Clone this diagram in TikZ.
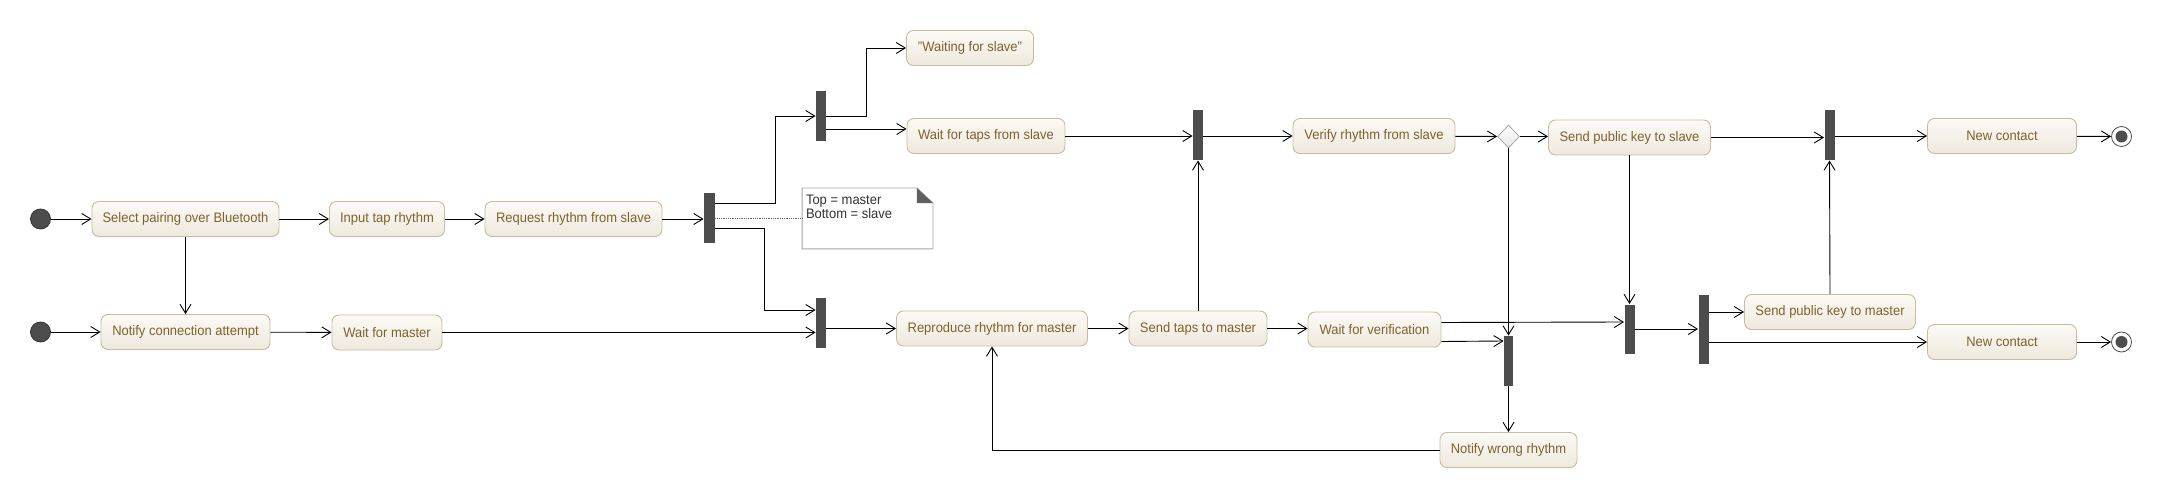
\documentclass[tikz,border=0pt]{standalone}
\usepackage{fontspec}
\setmainfont{Liberation Sans}[FakeStretch=0.94]
\usetikzlibrary{arrows.meta,shapes.geometric}
\definecolor{acttext}{RGB}{125,98,45}
\definecolor{acttop}{RGB}{252,250,246}
\definecolor{actbot}{RGB}{238,233,221}
\definecolor{actline}{RGB}{201,188,158}
\definecolor{barcol}{RGB}{77,77,77}
\definecolor{noteline}{RGB}{165,165,165}
\begin{document}
\begin{tikzpicture}[x=1pt, y=-1pt, line width=0.9pt,
	flow/.style={-{Straight Barb[length=9pt,width=11pt,line width=0.9pt]}},
	act/.style={rectangle, rounded corners=7pt, draw=actline, line width=0.9pt, top color=acttop, bottom color=actbot, text=acttext, minimum height=35pt, inner sep=0pt, font=\fontsize{13.8}{16}\selectfont},
	bar/.style={rectangle, fill=barcol, minimum width=10pt, minimum height=50pt, inner sep=0pt},
	start/.style={circle, fill=barcol, draw=black!80, line width=0.8pt, minimum size=20pt, inner sep=0pt},
	stop/.style={circle, fill=white, draw=black!70, line width=0.8pt, minimum size=20pt, inner sep=0pt, path picture={\fill[barcol] (path picture bounding box.center) circle (6pt);}},
	dec/.style={diamond, draw=black!35, line width=0.8pt, top color=white, bottom color=black!10, minimum width=22pt, minimum height=23pt, inner sep=0pt},
	note/.style={rectangle, minimum width=130pt, minimum height=60pt, inner sep=0pt},
	notetxt/.style={inner sep=0pt, align=left, text=black!80, font=\fontsize{13.8}{12.5}\selectfont}]
	\useasboundingbox (0,0) rectangle (2161,497);

	\node[start] (st1) at (40.5, 219) {};
	\node[act, minimum width=187pt] (sel) at (185.5, 219) {Select pairing over Bluetooth};
	\node[act, minimum width=115pt] (inp) at (387, 219) {Input tap rhythm};
	\node[act, minimum width=177pt] (req) at (573.5, 219) {Request rhythm from slave};
	\node[bar, minimum width=11pt] (f1) at (709.5, 218.5) {};
	\node[start] (st2) at (40.5, 332) {};
	\node[act, minimum width=169pt] (notc) at (185.5, 332) {Notify connection attempt};
	\node[act, minimum width=110pt] (wmas) at (387, 332.5) {Wait for master};

	\node[note] (note) at (867.5, 218.5) {};
	\draw[line width=0.9pt, draw=noteline, fill=white] (note.north west) -- ([xshift=-16pt]note.north east) -- ([yshift=-15pt]note.north east) -- (note.south east) -- (note.south west) -- cycle;
	\fill[barcol!90] ([xshift=-16pt]note.north east) -- ([xshift=-16pt, yshift=-15pt]note.north east) -- ([yshift=-15pt]note.north east) -- cycle;
	\node[notetxt, anchor=north west] (notet) at ([xshift=3.5pt, yshift=-7pt]note.north west) {Top = master\\Bottom = slave};

	\node[bar] (f2) at (821, 116) {};
	\node[act, minimum width=127pt] (wsl) at (970, 48) {"Waiting for slave"};
	\node[act, minimum width=158pt] (wtap) at (986, 136) {Wait for taps from slave};
	\node[bar] (f3) at (1198, 135) {};
	\node[act, minimum width=162pt] (ver) at (1374, 136) {Verify rhythm from slave};
	\node[dec] (d1) at (1508.5, 136.5) {};
	\node[act, minimum width=162pt] (ksl) at (1629.5, 137.5) {Send public key to slave};
	\node[bar] (f4) at (1829.5, 135) {};
	\node[act, minimum width=149pt] (nc1) at (2002, 136) {New contact};
	\node[stop] (e1) at (2121.5, 136.5) {};

	\node[bar] (f8) at (821, 323) {};
	\node[act, minimum width=191pt] (rep) at (992, 328.5) {Reproduce rhythm for master};
	\node[act, minimum width=138pt] (stap) at (1198, 328.5) {Send taps to master};
	\node[act, minimum width=133pt] (wver) at (1374.5, 329.5) {Wait for verification};
	\node[bar, minimum width=9pt] (f5) at (1508.5, 361) {};
	\node[bar, minimum height=49pt] (f6) at (1629.5, 329) {};
	\node[bar, minimum height=69pt] (f7) at (1703.5, 329) {};
	\node[act, minimum width=171pt] (kma) at (1830, 312) {Send public key to master};
	\node[act, minimum width=149pt] (nc2) at (2002, 342) {New contact};
	\node[stop] (e2) at (2121.5, 342) {};
	\node[act, minimum width=137pt] (nwr) at (1508.5, 450) {Notify wrong rhythm};

	\draw[densely dotted, line width=0.8pt, black!60] (f1.east) -- (note.west);

	\draw[flow] (st1) edge (sel);
	\draw[flow] (sel) edge (inp);
	\draw[flow] (inp) edge (req);
	\draw[flow] (req.east) -- (req.east -| f1.west);
	\draw[flow] (sel) edge (notc);
	\draw[flow] (st2) edge (notc);
	\draw[flow] (notc) edge (wmas);
	\draw[flow] (wmas.east) -- (wmas.east -| f8.west);

	\draw[flow] ([yshift=15pt]f1.east) -- ++(60,0) |- (f2.west);
	\draw[flow] ([yshift=-10pt]f1.east) -- ++(49,0) |- ([yshift=13pt]f8.west);
	\draw[flow] (f2.east) -- ++(40,0) |- (wsl.west);
	\draw[flow] ([yshift=-13pt]f2.east) -- ([yshift=7pt]wtap.west);
	\draw[flow] (wtap.east) -- (wtap.east -| f3.west);
	\draw[flow] (f3.east |- ver.west) -- (ver.west);
	\draw[flow] (ver) edge (d1);
	\draw[flow] (d1.east) -- (d1.east -| ksl.west);
	\draw[flow] (ksl.east) -- (ksl.east -| f4.west);
	\draw[flow] (f4.east |- nc1.west) -- (nc1.west);
	\draw[flow] (nc1) edge (e1);

	\draw[flow] (rep.west -| f8.east) -- (rep.west);
	\draw[flow] (rep) edge (stap);
	\draw[flow] (stap.north) -- (f3.south);
	\draw[flow] (stap.east) -- (stap.east -| wver.west);
	\draw[flow] ([yshift=7pt]wver.east) -- ([yshift=7pt]f6.west);
	\draw[flow] ([yshift=-12pt]wver.east) -- ([yshift=20pt]f5.west);
	\draw[flow] (d1.south) -- (f5.north);
	\draw[flow] (ksl.south -| f6.north) -- (f6.north);
	\draw[flow] (f6) edge (f7);
	\draw[flow] ([yshift=17pt]f7.east) -- (kma.west);
	\draw[flow] ([yshift=-13pt]f7.east) -- (nc2.west);
	\draw[flow] (kma.north) -- (f4.south);
	\draw[flow] (nc2) edge (e2);
	\draw[flow] (f5) edge (nwr);
	\draw[flow] (nwr.west) -| (rep.south);
\end{tikzpicture}
\end{document}
